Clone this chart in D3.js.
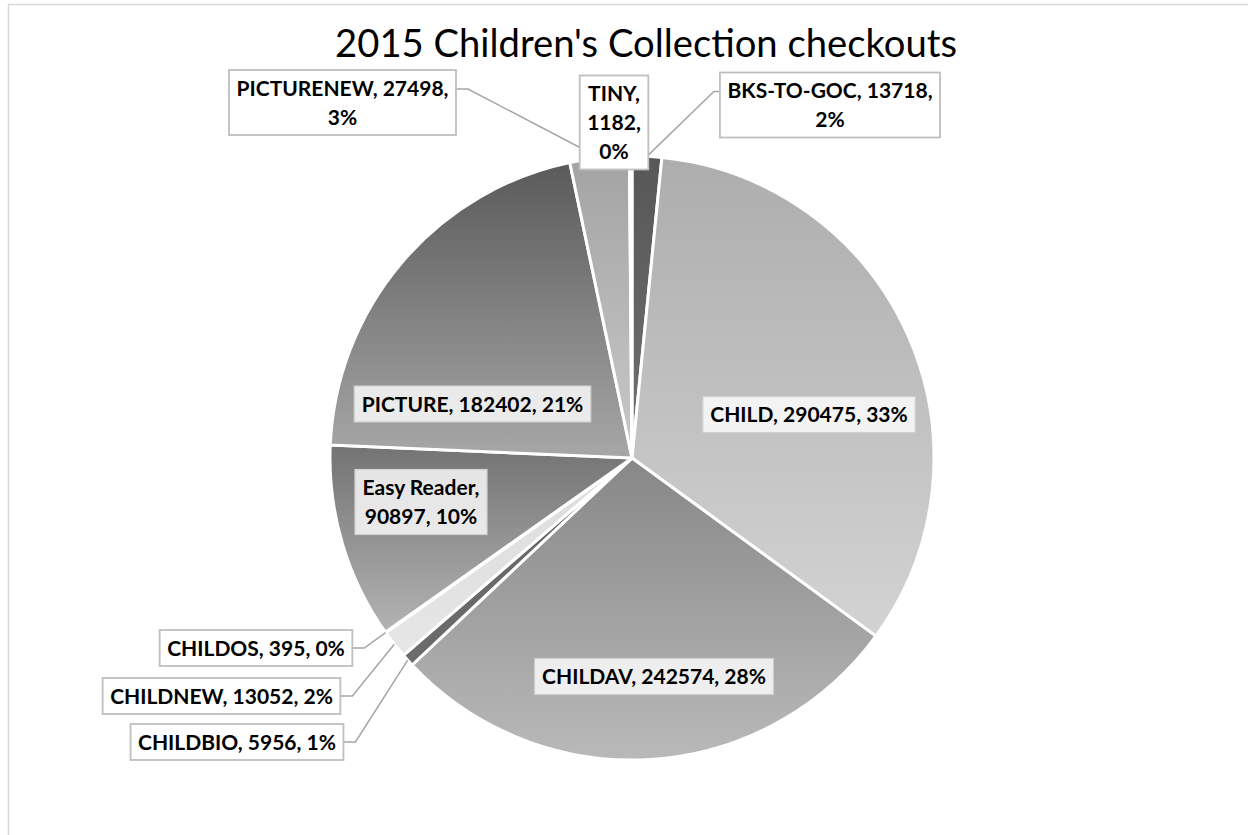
<!DOCTYPE html>
<html>
<head>
<meta charset="utf-8">
<script src="https://cdn.jsdelivr.net/npm/d3@7"></script>
<style>
  body { margin: 0; background: #fff; }
  svg { display: block; }
</style>
</head>
<body>
<svg id="chart" width="1248" height="835"></svg>
<script>
const categories = ["BKS-TO-GOC", "CHILD", "CHILDAV", "CHILDBIO", "CHILDNEW", "CHILDOS", "Easy Reader", "PICTURE", "PICTURENEW", "TINY"];
const checkouts = [13718, 290475, 242574, 5956, 13052, 395, 90897, 182402, 27498, 1182];

// grey gradient of each slice, top -> bottom
const shadeTop    = ["#575757", "#adadad", "#878787", "#646464", "#dcdcdc", "#9a9a9a", "#737373", "#5a5a5a", "#a3a3a3", "#e4e4e4"];
const shadeBottom = ["#707070", "#d3d3d3", "#b9b9b9", "#6c6c6c", "#e6e6e6", "#a2a2a2", "#b3b3b3", "#a7a7a7", "#c9c9c9", "#f2f2f2"];

// where each data label box sits (centre), and after which part the text wraps
const labelLayout = {
  "BKS-TO-GOC":  {cx: 830,   cy: 105,   breaks: [1],    outside: true,  side: "right"},
  "CHILD":       {cx: 809,   cy: 414.5, breaks: [],     outside: false},
  "CHILDAV":     {cx: 654,   cy: 676.5, breaks: [],     outside: false},
  "CHILDBIO":    {cx: 237,   cy: 742,   breaks: [],     outside: true,  side: "left"},
  "CHILDNEW":    {cx: 221.5, cy: 696,   breaks: [],     outside: true,  side: "left"},
  "CHILDOS":     {cx: 256,   cy: 648,   breaks: [],     outside: true,  side: "left"},
  "Easy Reader": {cx: 421,   cy: 502,   breaks: [0],    outside: false},
  "PICTURE":     {cx: 472.5, cy: 404,   breaks: [],     outside: false},
  "PICTURENEW":  {cx: 342.5, cy: 102.5, breaks: [1],    outside: true,  side: "left"},
  "TINY":        {cx: 614,   cy: 122.5, breaks: [0, 1], outside: true,  side: "none"}
};

const width = 1248, height = 835;
const cx = 632, cy = 458, radius = 302;
const lineH = 29;
const labelSize = 21;

const svg = d3.select("#chart");

// chart area border
svg.append("rect")
    .attr("x", 8.5).attr("y", 4.5)
    .attr("width", 1400).attr("height", 1000)
    .attr("fill", "none")
    .attr("stroke", "#d9d9d9")
    .attr("stroke-width", 1.5);

// title
const title = svg.append("text")
    .attr("x", 646).attr("y", 57)
    .attr("text-anchor", "middle")
    .style("font-family", "Lato, 'Open Sans', sans-serif")
    .style("font-weight", 400)
    .style("font-size", "34px")
    .attr("fill", "#000")
    .text("2015 Children's Collection checkouts");
// squeeze / stretch to the width of the original title
const tw = title.node().getComputedTextLength();
title.style("font-size", (34 * 622 / tw) + "px");

const data = categories.map((c, i) => ({name: c, value: checkouts[i], idx: i}));
const total = d3.sum(checkouts);

const pie = d3.pie().sort(null).value(d => d.value);
const arc = d3.arc().innerRadius(0).outerRadius(radius);
const arcs = pie(data);

const defs = svg.append("defs");
arcs.forEach((a, i) => {
  const g = defs.append("linearGradient")
      .attr("id", "grad" + i)
      .attr("x1", 0).attr("y1", 0).attr("x2", 0).attr("y2", 1);
  g.append("stop").attr("offset", "0%").attr("stop-color", shadeTop[i]);
  g.append("stop").attr("offset", "100%").attr("stop-color", shadeBottom[i]);
});

const pieG = svg.append("g").attr("transform", "translate(" + cx + "," + cy + ")");
pieG.selectAll("path")
    .data(arcs)
    .enter()
    .append("path")
    .attr("d", arc)
    .attr("fill", (d, i) => "url(#grad" + i + ")")
    .attr("stroke", "#fff")
    .attr("stroke-width", 3)
    .attr("stroke-linejoin", "round");

function labelLines(d) {
  const pct = Math.round(d.value / total * 100) + "%";
  const parts = [d.name, String(d.value), pct];
  const br = labelLayout[d.name].breaks;
  const lines = [];
  let cur = "";
  parts.forEach((p, i) => {
    cur += p;
    if (i === parts.length - 1) { lines.push(cur); return; }
    if (br.indexOf(i) >= 0) { lines.push(cur + ","); cur = ""; }
    else cur += ", ";
  });
  return lines;
}

const leaderG = svg.append("g");
const labelG = svg.append("g");

arcs.forEach(a => {
  const d = a.data;
  const lay = labelLayout[d.name];
  const lines = labelLines(d);
  const g = labelG.append("g").attr("transform", "translate(" + lay.cx + "," + lay.cy + ")");
  const box = g.append("rect");
  const texts = lines.map((ln, i) => g.append("text")
      .attr("x", 0)
      .attr("y", (i - (lines.length - 1) / 2) * lineH + 7.5)
      .attr("text-anchor", "middle")
      .style("font-family", "Lato, 'Open Sans', sans-serif")
      .style("font-weight", 700)
      .style("font-size", labelSize + "px")
      .attr("fill", "#000")
      .text(ln));
  const maxW = d3.max(texts, t => t.node().getComputedTextLength());
  const bw = maxW + 15, bh = lines.length * lineH + 7;
  box.attr("x", -bw / 2).attr("y", -bh / 2)
      .attr("width", bw).attr("height", bh)
      .attr("fill", lay.outside ? "#fff" : "rgba(255,255,255,0.8)")
      .attr("stroke", lay.outside ? "#bfbfbf" : "#cfcfcf")
      .attr("stroke-width", lay.outside ? 1.8 : 1.2);

  // leader lines for the labels that sit outside the pie
  if (lay.outside && lay.side !== "none") {
    const mid = (a.startAngle + a.endAngle) / 2;
    const px = cx + radius * Math.sin(mid);
    const py = cy - radius * Math.cos(mid);
    const ay = lay.cy - bh / 2 + Math.min(bh / 2, 19);
    const ax = lay.side === "left" ? lay.cx + bw / 2 : lay.cx - bw / 2;
    const ex = lay.side === "left" ? ax + 12 : ax - 6;
    leaderG.append("path")
        .attr("d", "M" + px + "," + py + "L" + ex + "," + ay + "L" + ax + "," + ay)
        .attr("fill", "none")
        .attr("stroke", "#a6a6a6")
        .attr("stroke-width", 1.5);
  }
});
</script>
</body>
</html>
